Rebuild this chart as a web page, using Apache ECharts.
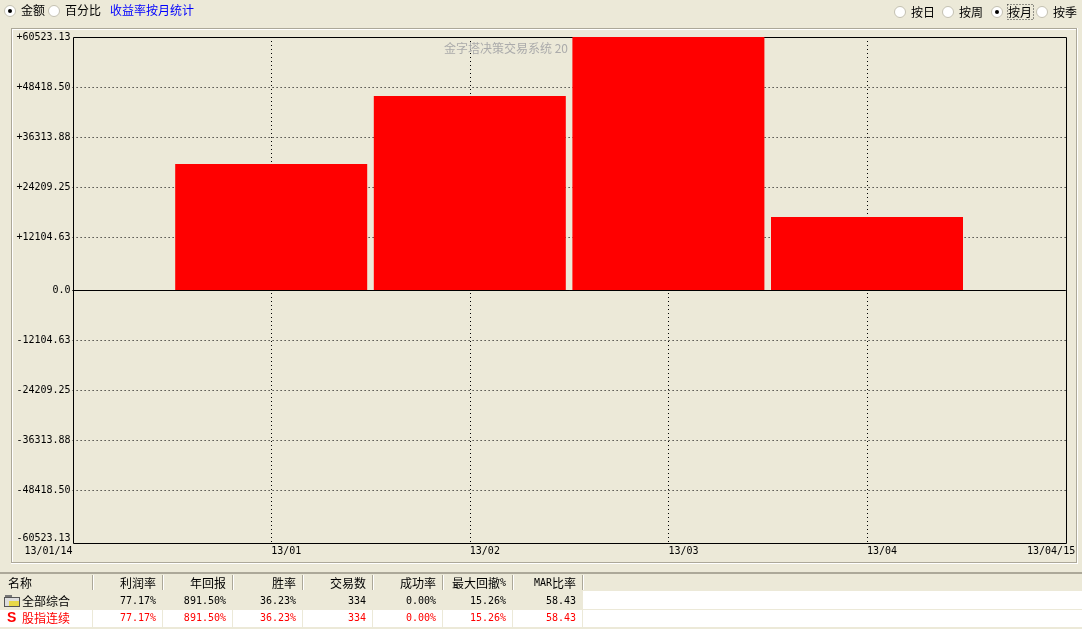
<!DOCTYPE html>
<html>
<head>
<meta charset="utf-8">
<style>html,body{margin:0;padding:0;background:#ECE9D8;overflow:hidden}#c{width:1082px;height:629px}</style>
<script src="https://cdn.jsdelivr.net/npm/echarts@6/dist/echarts.min.js"></script>
</head>
<body>
<div id="c"></div>
<script>
var months = ['13/01/14','13/01','13/02','13/03','13/04','13/04/15'];
var profit = [null, 30142, 46409, 60523.13, 17463, null];
var axisMax = 60523.13;
// where the picture actually places its gridlines on the value scale (the source rounds its grid step)
var yTickValues = [-60523.13,-47844,-35883,-23922,-11961,0,12679,24640,36600,48563,60523.13];
var yTickLabels = ['-60523.13','-48418.50','-36313.88','-24209.25','-12104.63','0.0','+12104.63','+24209.25','+36313.88','+48418.50','+60523.13'];
var tableHeader = ['名称','利润率','年回报','胜率','交易数','成功率','最大回撤%','MAR比率'];
var rowAll = ['全部综合','77.17%','891.50%','36.23%','334','0.00%','15.26%','58.43'];
var rowFutures = ['股指连续','77.17%','891.50%','36.23%','334','0.00%','15.26%','58.43'];

var FONT = '"DejaVu Sans Mono","Noto Sans CJK SC",monospace';
var CJK = '"Noto Sans CJK SC",sans-serif';
var g = [];
function rect(x,y,w,h,fill,z){g.push({type:'rect',silent:true,z:z||1,shape:{x:x,y:y,width:w,height:h},style:{fill:fill}});}
function text(x,y,t,opt){opt=opt||{};g.push({type:'text',silent:true,z:opt.z||3,x:x,y:y,style:{text:t,fill:opt.color||'#000',font:(opt.size||12)+'px '+(opt.family||CJK),align:opt.align||'left',verticalAlign:'middle'}});}
function radio(x,y,on){
  g.push({type:'circle',silent:true,z:3,shape:{cx:x,cy:y,r:5.5},style:{fill:'#fff',stroke:'#C4C1B2',lineWidth:1}});
  if(on) g.push({type:'circle',silent:true,z:4,shape:{cx:x,cy:y,r:2},style:{fill:'#000'}});
}
// top controls
radio(10,11,true); text(21,10,'金额');
radio(54,11,false); text(65,10,'百分比');
text(110,10,'收益率按月统计',{color:'#0000FF'});
radio(900,12,false); text(911,12,'按日');
radio(948,12,false); text(959,12,'按周');
radio(997,12,true); text(1008,12,'按月');
radio(1042,12,false); text(1053,12,'按季');
g.push({type:'rect',silent:true,z:3,shape:{x:1007.5,y:4.5,width:26,height:15},style:{fill:'none',stroke:'#333',lineWidth:1,lineDash:[1,2]}});
// group box
rect(11,28,1066,1,'#ACA899',0);rect(11,28,1,535,'#ACA899',0);
rect(12,29,1064,1,'#fff',0);rect(12,29,1,533,'#fff',0);
rect(12,562,1065,1,'#ACA899',0);rect(1076,28,1,535,'#ACA899',0);
rect(11,563,1067,1,'#fff',0);rect(1077,28,1,536,'#fff',0);
// plot frame
g.push({type:'rect',silent:true,z:0,shape:{x:73.5,y:37.5,width:993,height:506},style:{fill:'none',stroke:'#000',lineWidth:1}});
// watermark
text(444,48,'金字塔决策交易系统 20',{color:'#ABABAB',z:1});
// table
var sepX=[92,162,232,302,372,442,512,582], right=[156,226,296,366,436,506,576];
rect(0,572,1082,2,'#ACA899',0);
rect(0,574,1082,55,'#ECE9D8',0);
rect(0,591,583,19,'#ECE9D8',0);
rect(583,591,499,19,'#fff',0);
rect(0,610,1082,17,'#fff',0);
rect(0,609,1082,1,'#ECE9D8',1);
rect(0,627,1082,2,'#ECE9D8',1);
sepX.forEach(function(x){rect(x,575,1,15,'#ACA899',2);rect(x+1,575,1,15,'#fff',2);rect(x,610,1,19,'#ECE9D8',1);});
text(8,583,tableHeader[0]);
tableHeader.slice(1,6).forEach(function(t,i){text(right[i],583,t,{align:'right'});});
text(right[5],583,'%',{align:'right',family:FONT,size:10});
text(right[5]-6,583,'最大回撤',{align:'right'});
text(right[6],583,'比率',{align:'right'});
text(right[6]-24,583,'MAR',{align:'right',family:FONT,size:10});
// folder icon
rect(4,597,16,10,'#555',2);rect(5,598,14,8,'#DDD',2);rect(9,601,10,5,'#E8D848',2);rect(5,595,7,2,'#777',2);
text(22,601,rowAll[0]);
rowAll.slice(1).forEach(function(t,i){text(right[i],601,t,{align:'right',family:FONT,size:10});});
text(7,618,'S',{color:'#FF0000',family:'"Liberation Sans"',size:14});
g[g.length-1].style.font='bold 14px "Liberation Sans"';
text(22,618,rowFutures[0],{color:'#FF0000'});
rowFutures.slice(1).forEach(function(t,i){text(right[i],618,t,{align:'right',family:FONT,size:10,color:'#FF0000'});});

var chart = echarts.init(document.getElementById('c'),null,{renderer:'canvas'});
chart.setOption({
  animation:false,
  backgroundColor:'#ECE9D8',
  grid:{left:72.6,right:16.4,top:37,bottom:86,show:false,containLabel:false},
  xAxis:{
    type:'category',data:months,boundaryGap:false,
    axisLine:{show:false},axisTick:{show:false},
    axisLabel:{
      interval:0,hideOverlap:false,margin:3,color:'#000',fontFamily:FONT,fontSize:10,
      align:'left',alignMinLabel:'right',alignMaxLabel:'center',
      formatter:function(v,i){return i===months.length-1?'{e|'+v+'}':v;},
      rich:{e:{padding:[0,29,0,0],fontFamily:FONT,fontSize:10,color:'#000'}}
    },
    splitLine:{show:true,interval:0,showMinLine:false,showMaxLine:false,lineStyle:{color:'#000',width:1,type:[1,3]}}
  },
  yAxis:{
    type:'value',min:-axisMax,max:axisMax,
    axisLine:{show:false},
    axisTick:{show:false,customValues:yTickValues},
    axisLabel:{
      customValues:yTickValues,
      margin:2,color:'#000',fontFamily:FONT,fontSize:10,verticalAlignMinLabel:'bottom',
      formatter:function(v){return yTickLabels[yTickValues.indexOf(v)];}
    },
    splitLine:{show:true,showMinLine:false,showMaxLine:false,lineStyle:{color:'#000',width:1,type:[1,3]}}
  },
  series:[{
    type:'bar',data:profit,barWidth:192,itemStyle:{color:'#FF0000'},silent:true,
    markLine:{silent:true,symbol:'none',label:{show:false},lineStyle:{color:'#000',width:1,type:'solid'},data:[{yAxis:0}]}
  }],
  graphic:{elements:g}
});
</script>
</body>
</html>
